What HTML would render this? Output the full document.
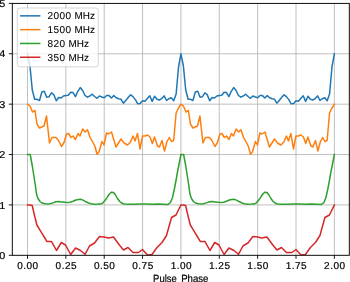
<!DOCTYPE html>
<html><head><meta charset="utf-8"><style>html,body{margin:0;padding:0;background:#fff;width:350px;height:282px;overflow:hidden}svg{display:block;will-change:transform}text{text-rendering:geometricPrecision}</style></head>
<body><svg width="350" height="282" viewBox="0 0 350 282">
<rect width="350" height="282" fill="#fff"/>
<path d="M27.50 3.4V255.3M65.86 3.4V255.3M104.22 3.4V255.3M142.57 3.4V255.3M180.93 3.4V255.3M219.29 3.4V255.3M257.64 3.4V255.3M296.00 3.4V255.3M334.36 3.4V255.3M12.3 204.92H349.3M12.3 154.54H349.3M12.3 104.16H349.3M12.3 53.78H349.3" stroke="#b0b0b0" stroke-width="0.8" fill="none"/>
<polyline points="27.50,53.80 29.90,65.50 32.29,90.00 34.69,99.20 37.09,99.30 39.49,100.50 41.88,92.00 44.28,91.20 46.68,97.20 49.08,96.70 51.47,92.80 53.87,94.90 56.27,100.80 58.67,97.50 61.06,98.00 63.46,96.00 65.86,95.50 68.25,95.30 70.65,92.20 73.05,92.60 75.45,96.60 77.84,91.30 80.24,87.60 82.64,90.50 85.04,95.50 87.43,97.20 89.83,96.00 92.23,94.20 94.63,96.50 97.02,98.30 99.42,96.00 101.82,97.00 104.22,97.80 106.61,95.50 109.01,95.60 111.41,98.00 113.80,95.60 116.20,97.80 118.60,98.80 121.00,99.20 123.39,103.20 125.79,100.40 128.19,97.60 130.59,94.80 132.98,96.60 135.38,99.60 137.78,103.80 140.18,103.60 142.57,100.70 144.97,101.20 147.37,98.50 149.76,95.80 152.16,101.40 154.56,96.20 156.96,99.30 159.35,100.00 161.75,98.60 164.15,95.90 166.55,100.50 168.94,98.70 171.34,97.80 173.74,100.80 176.14,94.00 178.53,67.00 180.93,53.80 183.33,65.50 185.72,90.00 188.12,99.20 190.52,99.30 192.92,100.50 195.31,92.00 197.71,91.20 200.11,97.20 202.51,96.70 204.90,92.80 207.30,94.90 209.70,100.80 212.10,97.50 214.49,98.00 216.89,96.00 219.29,95.50 221.68,95.30 224.08,92.20 226.48,92.60 228.88,96.60 231.27,91.30 233.67,87.60 236.07,90.50 238.47,95.50 240.86,97.20 243.26,96.00 245.66,94.20 248.06,96.50 250.45,98.30 252.85,96.00 255.25,97.00 257.64,97.80 260.04,95.50 262.44,95.60 264.84,98.00 267.23,95.60 269.63,97.80 272.03,98.80 274.43,99.20 276.82,103.20 279.22,100.40 281.62,97.60 284.02,94.80 286.41,96.60 288.81,99.60 291.21,103.80 293.61,103.60 296.00,100.70 298.40,101.20 300.80,98.50 303.19,95.80 305.59,101.40 307.99,96.20 310.39,99.30 312.78,100.00 315.18,98.60 317.58,95.90 319.98,100.50 322.37,98.70 324.77,97.80 327.17,100.80 329.57,94.00 331.96,67.00 334.36,53.80" fill="none" stroke="#1f77b4" stroke-width="1.5" stroke-linejoin="round" stroke-linecap="square" clip-path="url(#c)"/>
<polyline points="27.50,104.20 30.00,106.00 32.50,112.00 35.00,110.50 37.00,124.00 39.50,128.00 44.00,126.00 46.50,116.00 49.50,143.00 52.00,137.50 56.00,137.50 58.50,140.50 61.50,146.50 64.00,142.50 66.50,134.00 68.50,133.50 71.00,137.50 73.00,136.00 75.50,139.50 78.00,133.50 80.00,136.00 82.70,129.00 85.20,132.00 87.50,129.80 90.00,137.30 93.00,142.50 95.00,146.50 97.00,154.20 99.00,152.00 102.00,141.50 104.00,145.00 106.50,133.00 108.50,134.00 111.50,132.00 116.00,147.00 121.00,139.00 124.00,143.00 127.50,145.00 130.50,142.00 133.00,136.00 135.00,141.00 137.50,133.50 140.00,149.00 142.50,136.00 145.00,136.00 147.50,135.00 150.00,137.00 152.30,143.50 154.50,137.00 157.50,146.00 159.50,147.00 162.00,140.50 164.50,151.00 167.00,141.50 169.30,137.50 171.50,141.50 173.70,140.50 176.10,113.00 178.50,108.00 180.93,104.20 183.43,106.00 185.93,112.00 188.43,110.50 190.43,124.00 192.93,128.00 197.43,126.00 199.93,116.00 202.93,143.00 205.43,137.50 209.43,137.50 211.93,140.50 214.93,146.50 217.43,142.50 219.93,134.00 221.93,133.50 224.43,137.50 226.43,136.00 228.93,139.50 231.43,133.50 233.43,136.00 236.13,129.00 238.63,132.00 240.93,129.80 243.43,137.30 246.43,142.50 248.43,146.50 250.43,154.20 252.43,152.00 255.43,141.50 257.43,145.00 259.93,133.00 261.93,134.00 264.93,132.00 269.43,147.00 274.43,139.00 277.43,143.00 280.93,145.00 283.93,142.00 286.43,136.00 288.43,141.00 290.93,133.50 293.43,149.00 295.93,136.00 298.43,136.00 300.93,135.00 303.43,137.00 305.73,143.50 307.93,137.00 310.93,146.00 312.93,147.00 315.43,140.50 317.93,151.00 320.43,141.50 322.73,137.50 324.93,141.50 327.13,140.50 329.53,113.00 331.93,108.00 334.36,104.20" fill="none" stroke="#ff7f0e" stroke-width="1.5" stroke-linejoin="round" stroke-linecap="square" clip-path="url(#c)"/>
<polyline points="27.50,154.50 30.20,154.50 32.50,167.00 34.50,180.00 35.30,185.00 36.50,194.00 38.00,198.50 40.00,201.50 42.00,203.00 45.00,203.80 47.50,204.00 50.00,203.70 53.00,202.90 56.00,201.80 58.50,201.60 62.00,202.00 65.00,202.30 68.00,202.40 70.00,202.20 73.00,201.30 76.00,200.00 78.50,199.40 80.50,199.30 83.00,200.10 86.00,201.80 88.50,203.00 91.00,203.80 94.50,204.20 98.00,204.10 101.00,203.90 103.00,202.80 105.00,200.50 107.00,197.60 109.00,194.50 111.30,192.30 113.60,192.50 115.50,195.00 117.50,198.50 119.50,201.20 121.50,203.00 124.00,204.00 128.00,204.30 133.00,204.30 140.00,204.10 147.00,203.90 152.00,204.20 158.00,203.90 163.00,204.20 168.00,204.40 170.50,202.50 172.50,197.50 174.50,188.50 176.10,180.00 177.50,172.00 178.90,165.00 180.93,154.50 183.63,154.50 185.93,167.00 187.93,180.00 188.73,185.00 189.93,194.00 191.43,198.50 193.43,201.50 195.43,203.00 198.43,203.80 200.93,204.00 203.43,203.70 206.43,202.90 209.43,201.80 211.93,201.60 215.43,202.00 218.43,202.30 221.43,202.40 223.43,202.20 226.43,201.30 229.43,200.00 231.93,199.40 233.93,199.30 236.43,200.10 239.43,201.80 241.93,203.00 244.43,203.80 247.93,204.20 251.43,204.10 254.43,203.90 256.43,202.80 258.43,200.50 260.43,197.60 262.43,194.50 264.73,192.30 267.03,192.50 268.93,195.00 270.93,198.50 272.93,201.20 274.93,203.00 277.43,204.00 281.43,204.30 286.43,204.30 293.43,204.10 300.43,203.90 305.43,204.20 311.43,203.90 316.43,204.20 321.43,204.40 323.93,202.50 325.93,197.50 327.93,188.50 329.53,180.00 330.93,172.00 332.33,165.00 334.36,154.50" fill="none" stroke="#2ca02c" stroke-width="1.5" stroke-linejoin="round" stroke-linecap="square" clip-path="url(#c)"/>
<polyline points="27.50,205.00 29.80,205.00 32.20,205.50 34.50,215.50 36.90,225.00 39.40,229.20 41.80,233.10 44.20,237.00 46.80,241.40 49.20,241.50 51.60,241.60 56.50,250.50 61.30,242.50 65.50,245.00 70.70,254.50 75.50,248.00 80.50,250.50 85.00,254.30 89.50,246.00 94.50,243.00 99.50,236.50 104.00,237.00 108.50,238.00 113.50,237.00 119.00,244.50 123.50,250.00 128.00,247.50 133.00,252.50 138.50,252.50 142.50,249.50 147.50,255.00 152.00,254.50 157.00,247.50 162.00,242.50 166.50,235.50 171.50,217.50 176.00,215.00 180.93,205.00 183.23,205.00 185.63,205.50 187.93,215.50 190.33,225.00 192.83,229.20 195.23,233.10 197.63,237.00 200.23,241.40 202.63,241.50 205.03,241.60 209.93,250.50 214.73,242.50 218.93,245.00 224.13,254.50 228.93,248.00 233.93,250.50 238.43,254.30 242.93,246.00 247.93,243.00 252.93,236.50 257.43,237.00 261.93,238.00 266.93,237.00 272.43,244.50 276.93,250.00 281.43,247.50 286.43,252.50 291.93,252.50 295.93,249.50 300.93,255.00 305.43,254.50 310.43,247.50 315.43,242.50 319.93,235.50 324.93,217.50 329.43,215.00 334.36,205.00" fill="none" stroke="#d62728" stroke-width="1.5" stroke-linejoin="round" stroke-linecap="square" clip-path="url(#c)"/>
<path d="M27.50 255.3v3.5M65.86 255.3v3.5M104.22 255.3v3.5M142.57 255.3v3.5M180.93 255.3v3.5M219.29 255.3v3.5M257.64 255.3v3.5M296.00 255.3v3.5M334.36 255.3v3.5M12.3 255.30h-3.5M12.3 204.92h-3.5M12.3 154.54h-3.5M12.3 104.16h-3.5M12.3 53.78h-3.5M12.3 3.40h-3.5" stroke="#000" stroke-width="0.9" fill="none"/>
<rect x="12.3" y="3.4" width="337.0" height="251.9" fill="none" stroke="#000" stroke-width="0.95"/>
<g font-family="Liberation Sans, sans-serif" font-size="10.3" fill="#000" stroke="#000" stroke-width="0.2"><text transform="translate(27.95 269.3) scale(1.001 1)" text-anchor="middle" font-size="10" letter-spacing="0.5">0.00</text><text transform="translate(66.31 269.3) scale(1.001 1)" text-anchor="middle" font-size="10" letter-spacing="0.5">0.25</text><text transform="translate(104.67 269.3) scale(1.001 1)" text-anchor="middle" font-size="10" letter-spacing="0.5">0.50</text><text transform="translate(143.02 269.3) scale(1.001 1)" text-anchor="middle" font-size="10" letter-spacing="0.5">0.75</text><text transform="translate(181.38 269.3) scale(1.001 1)" text-anchor="middle" font-size="10" letter-spacing="0.5">1.00</text><text transform="translate(219.74 269.3) scale(1.001 1)" text-anchor="middle" font-size="10" letter-spacing="0.5">1.25</text><text transform="translate(258.09 269.3) scale(1.001 1)" text-anchor="middle" font-size="10" letter-spacing="0.5">1.50</text><text transform="translate(296.45 269.3) scale(1.001 1)" text-anchor="middle" font-size="10" letter-spacing="0.5">1.75</text><text transform="translate(334.81 269.3) scale(1.001 1)" text-anchor="middle" font-size="10" letter-spacing="0.5">2.00</text><text transform="translate(5.3 258.90) scale(1.08 1)" text-anchor="end" font-size="10">0</text><text transform="translate(5.3 208.52) scale(1.08 1)" text-anchor="end" font-size="10">1</text><text transform="translate(5.3 158.14) scale(1.08 1)" text-anchor="end" font-size="10">2</text><text transform="translate(5.3 107.76) scale(1.08 1)" text-anchor="end" font-size="10">3</text><text transform="translate(5.3 57.38) scale(1.08 1)" text-anchor="end" font-size="10">4</text><text transform="translate(5.3 7.00) scale(1.08 1)" text-anchor="end" font-size="10">5</text><text transform="translate(153.1 281.6) scale(0.91 1)" font-size="10.4">Pulse</text><text transform="translate(181.2 281.6) scale(0.925 1)" font-size="10.4">Phase</text></g>
<rect x="17.3" y="8.0" width="81.0" height="58.8" rx="2.5" ry="2.5" fill="#fff" fill-opacity="0.8" stroke="#ccc" stroke-opacity="0.8" stroke-width="1"/>
<line x1="19.95" y1="15.85" x2="40.4" y2="15.85" stroke="#1f77b4" stroke-width="1.5"/>
<g font-family="Liberation Sans, sans-serif" font-size="10.0" stroke="#000" stroke-width="0.08"><text transform="translate(47.5 19.35) scale(1.001 1)" letter-spacing="0.45">2000</text><text transform="translate(74.50 19.35) scale(0.995 1)">MHz</text></g>
<line x1="19.95" y1="29.65" x2="40.4" y2="29.65" stroke="#ff7f0e" stroke-width="1.5"/>
<g font-family="Liberation Sans, sans-serif" font-size="10.0" stroke="#000" stroke-width="0.08"><text transform="translate(47.5 33.15) scale(1.001 1)" letter-spacing="0.45">1500</text><text transform="translate(74.50 33.15) scale(0.995 1)">MHz</text></g>
<line x1="19.95" y1="43.45" x2="40.4" y2="43.45" stroke="#2ca02c" stroke-width="1.5"/>
<g font-family="Liberation Sans, sans-serif" font-size="10.0" stroke="#000" stroke-width="0.08"><text transform="translate(47.5 46.95) scale(1.001 1)" letter-spacing="0.45">820</text><text transform="translate(68.46 46.95) scale(0.995 1)">MHz</text></g>
<line x1="19.95" y1="57.25" x2="40.4" y2="57.25" stroke="#d62728" stroke-width="1.5"/>
<g font-family="Liberation Sans, sans-serif" font-size="10.0" stroke="#000" stroke-width="0.08"><text transform="translate(47.5 60.75) scale(1.001 1)" letter-spacing="0.45">350</text><text transform="translate(68.46 60.75) scale(0.995 1)">MHz</text></g>
<defs><clipPath id="c"><rect x="12.3" y="3.4" width="337.0" height="251.9"/></clipPath></defs>
</svg></body></html>
